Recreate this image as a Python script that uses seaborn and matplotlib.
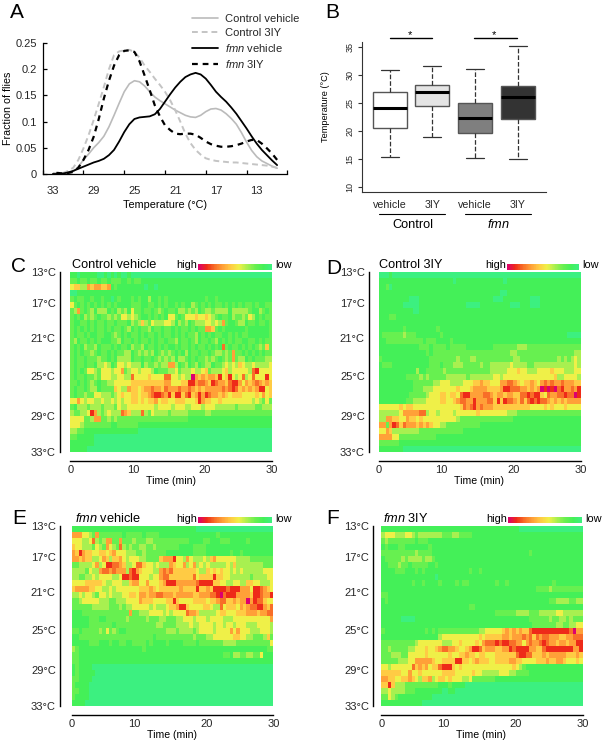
import numpy as np
import pandas as pd
import seaborn as sns
import matplotlib
matplotlib.use("Agg")
import matplotlib.pyplot as plt
from matplotlib.colors import LinearSegmentedColormap
from matplotlib.lines import Line2D

W, H = 603, 745

# ==============================
# DATA
# ==============================
temps = [33, 32.5, 32, 31.5, 31, 30.5, 30, 29.5, 29, 28.5, 28, 27.5, 27, 26.5, 26, 25.5, 25, 24.5, 24, 23.5, 23, 22.5,
         22, 21.5, 21, 20.5, 20, 19.5, 19, 18.5, 18, 17.5, 17, 16.5, 16, 15.5, 15, 14.5, 14, 13.5, 13, 12.5, 12, 11.5, 11]
control_vehicle = [0, 0, .001, .002, .005, .014, .027, .038, .05, .06, .072, .09, .112, .135, .157, .172, .178, .176, .168, .157, .147, .14,
                   .134, .128, .122, .117, .112, .109, .108, .112, .119, .124, .125, .122, .115, .106, .095, .079, .061, .045, .033, .025, .02, .015, .011]
control_3iy = [.002, .002, .002, .006, .012, .027, .049, .074, .103, .134, .166, .2, .227, .234, .236, .237, .233, .222, .207, .195, .182, .17,
               .157, .141, .122, .1, .077, .059, .046, .037, .03, .027, .025, .024, .023, .022, .022, .021, .02, .019, .018, .017, .016, .014, .012]
fmn_vehicle = [0, 0, .001, .003, .006, .01, .014, .018, .022, .025, .029, .036, .046, .062, .08, .095, .105, .108, .109, .11, .114, .124,
               .138, .152, .165, .176, .185, .19, .193, .19, .182, .17, .157, .147, .138, .127, .115, .101, .087, .072, .058, .046, .036, .026, .017]
fmn_3iy = [.002, .002, .001, .002, .004, .012, .027, .046, .071, .105, .144, .178, .207, .227, .235, .236, .233, .215, .188, .16, .131, .11,
           .093, .084, .077, .076, .077, .077, .075, .069, .062, .057, .054, .052, .052, .053, .055, .058, .062, .065, .065, .058, .049, .039, .027]

box_groups = ["vehicle ", "3IY ", "vehicle", "3IY"]
box_colors = ["#ffffff", "#e4e4e4", "#7f7f7f", "#333333"]
# low whisker, Q1, median, Q3, high whisker
box_stats = [
    [15.35, 20.4, 24.05, 27.0, 30.8],
    [18.9, 24.4, 27.0, 28.2, 31.5],
    [15.05, 19.6, 22.2, 24.9, 30.95],
    [15.0, 22.05, 26.05, 28.0, 35.2],
]

# heat maps: 30 rows (13C at the top) x 60 columns, 0 = low ... 9 = high
heat_c = [
    "1101111100 1010100100 0000000000 0000000000 0000000000 0000000000",
    "2212212212 2122211212 2111111111 1111111111 1111111111 1111111111",
    "4553365665 5612111111 1101101111 1111111111 1111111111 1111111111",
    "0011111111 1111111111 1111111111 1111111111 1111111111 1111111111",
    "2122112112 1101211121 2113112121 1111111111 2112111111 1111111111",
    "4212121212 1212111122 2112212121 1212113212 1212212121 2122121122",
    "2362123133 3121323142 2122123212 2133232312 3323333133 3332113212",
    "2121323212 2323244343 2112121214 4212444544 5432122132 2324312122",
    "2112212122 1221222132 3532433344 3132312333 4434362112 3312212212",
    "2121212122 1212212312 1223122122 1212212122 6652121111 1121111112",
    "2122121122 1123212122 1212212122 1212122312 1212211212 1221111112",
    "2312212121 1122312212 1221212212 2312212312 2123121212 2112212122",
    "2121322312 2212122132 2312212121 1212212122 1212172122 1212123252",
    "2121223212 2121223312 3232312323 2121312212 2123323262 2121212122",
    "2122122232 2121333312 2122123232 3133212122 3232123262 3312122233",
    "2122122133 4312443433 3132232336 6312312312 3312234343 5433433334",
    "2121244324 4434462344 3444312223 3423334334 5233345344 4443784444",
    "2122122324 4433443374 4445444477 4434339656 5665845843 4734744484",
    "2212123212 2334444455 5555555566 4445588677 6587665788 6465676565",
    "2122123312 2225433655 4566766576 6676676565 6666676787 5656568845",
    "2122322443 3323454455 4556788768 5885785686 8766565455 5444454645",
    "4464344334 3343434455 4545564554 4555444586 5544544444 4444343242",
    "2133323332 3332433444 4444434444 3444334443 4443333332 3333322333",
    "3223348632 3433376533 3732433332 3333322222 3322222222 2222222222",
    "4444223662 2323222222 2222222222 2222211111 1111111111 1111111111",
    "4443222222 2211222222 1111111111 1111111111 1111111111 1111111111",
    "3322111111 1111111111 0000000000 0000000000 0000000000 0000000000",
    "2211111000 0000000000 0000000000 0000000000 0000000000 0000000000",
    "1111111000 0000000000 0000000000 0000000000 0000000000 0000000000",
    "1111100000 0000000000 0000000000 0000000000 0000000000 0000000000",
]
heat_d = [
    "0001000000 0000000000 0000000000 0000000000 0000000000 0000000000",
    "1111111111 1111111111 1101111111 1111111011 1111111111 1111111111",
    "1120111111 1111111111 1111111111 1111111111 1111111111 1111111111",
    "1111111111 1111111111 1111111111 1111110011 1111111111 1111111111",
    "1111111110 0011111111 1111111111 1111000111 1111100011 1111111111",
    "1111111000 0011111111 1111110000 1111111110 0011100011 1111111111",
    "1111111111 0011111111 1111111111 1111111111 1111111111 1111111111",
    "1112211111 1111111111 1111111111 1111111111 1111111111 1111111111",
    "1111111111 1111111111 1111111111 1111111111 1111111111 1111111111",
    "1111111211 1111111211 1111111111 1111111111 1111111111 1111111111",
    "1222222322 2111111121 1111111111 1111111111 1111111111 1111110000",
    "1122222222 2221222111 1211111111 1111111111 1111111111 1111111111",
    "1111111111 1122212222 1222221111 1111222222 2333222222 2222222222",
    "1111111111 1111212222 2222222222 2222222223 3222222222 2222222233",
    "2111111111 1111122222 2223222332 2222222222 3322222222 2223232343",
    "1222111111 1111122212 2233322222 3223333334 3333223333 3333333343",
    "1111111111 1311222223 2222222222 2223333344 4544333444 4544433344",
    "1111111122 2232322222 3333332333 3333443444 4444444444 4453344443",
    "1111111111 2222223344 4333344455 6554446677 6545565467 6766766655",
    "1111111111 2223334444 4445444566 6655556887 7766565698 9897866768",
    "1111111112 2222344455 4554788666 6776566566 5577878854 7667787798",
    "1111111122 3333444455 4456776686 6677585877 6575787877 6565656666",
    "4444445455 4444444444 4444576786 7666555555 5555544445 4544454444",
    "3333334666 6677344344 4434444445 4444444433 3222222222 2222222222",
    "3366554465 5454444444 4443222222 2222222222 1111111111 1111111111",
    "6626875766 6565654433 2222222222 1111111111 1111111111 1111111111",
    "4465333333 3322222222 2222211111 1111111111 1111111111 1111111111",
    "6666442222 2222222111 1111111111 1111111111 1111111111 1111111111",
    "2222221111 1111111111 1111111111 1111111111 1111111111 1111111111",
    "1111111000 0000000000 0000000000 0000000000 0000000000 0000000000",
]
heat_e = [
    "1111111111 1111111111 1111111111 1111111000 0000000000 0000000000",
    "6664432622 2222212222 2122221111 1111111111 1112111111 1111111111",
    "4443347323 6622622232 2233222222 2222211112 2111222111 1121111111",
    "5443332432 6432732322 3322322222 2211112222 1111111111 1111111111",
    "6586554455 4564443332 2322222211 1111112222 1111111211 2111111111",
    "6656553346 5355643444 3322225666 8443643334 3564444443 3332222222",
    "2233334634 8877653347 7544343336 5446346343 4333334353 3333333222",
    "3333243367 7676663786 5444336767 5555555433 5454544343 4333333444",
    "3322334344 4433488788 4443446775 5555557455 5585544333 3332333344",
    "4444555554 3344433566 4464445688 8666666788 8855443344 3355443334",
    "5666655443 3434444444 5556545555 5565555855 6588887888 6664887654",
    "3343443244 3433344554 6656677666 5666665566 6778978886 6665887668",
    "2234444433 3223334444 6555444455 8544445555 4556775565 6696877544",
    "2222223333 3222323344 4443433345 5688544445 5433745554 6567788657",
    "1112222222 2222222622 3334444343 4444766533 3334554445 5566656677",
    "1111122211 2222223222 2232223322 2334443444 3444433344 4444444446",
    "1111122222 2212222222 2222233222 2333343344 4434434434 4433344443",
    "2212222232 4232112222 2222222233 3233332344 4434444646 4443334443",
    "1122222222 2222222222 2222122222 2222223222 3344444455 4433222352",
    "1111122211 1211221122 2212111121 1112222122 2222233332 2222222224",
    "3211111111 1111111111 1211111111 1111111111 1111111111 1111111122",
    "2211111111 1111111111 1111111111 1111111111 1111122133 2233224111",
    "2211111111 1111111111 1111111111 1111111111 1111111111 1111111111",
    "1211110000 0000000000 0000000000 0000000000 0000000000 0000000000",
    "1211111000 0000000000 0000000000 0000000000 0000000000 0000000000",
    "2211110000 0000000000 0000000000 0000000000 0000000000 0000000000",
    "2111100000 0000000000 0000000000 0000000000 0000000000 0000000000",
    "2211100000 0000000000 0000000000 0000000000 0000000000 0000000000",
    "2111100000 0000000000 0000000000 0000000000 0000000000 0000000000",
    "1111000000 0000000000 0000000000 0000000000 0000000000 0000000000",
]
heat_f = [
    "1111111111 1111111111 1111111111 1111111111 1000000000 0000000000",
    "3444333443 2333333322 2332222111 1111111111 1111111111 1111111111",
    "2322222222 1222111111 1111111111 1111111111 1111111111 1111111111",
    "1211122111 1111211111 1111111111 1111111111 1111111111 1111111111",
    "2222222222 3222211111 1111111111 1111111111 1111211111 1111111111",
    "1222223233 3323321111 1111111111 1111111111 1111111111 1111111111",
    "1122232212 2222112111 1111111111 1111111111 1111111111 1111111111",
    "1111222111 2121111111 1111112112 1111111111 1111111111 1111111111",
    "1111111111 1111110111 1111111111 1111111111 1111111111 1111111111",
    "1111111112 1121111211 1121221111 1111211211 1111111111 1211111111",
    "1111111111 1111111111 1111111111 1111111111 1111112222 3222222222",
    "2211111111 1111111111 1111111111 1111111111 1111111111 1111111111",
    "1211111111 1111111111 1111111111 1111111111 1111111111 2233332233",
    "1111111111 1111111111 1111112211 1111111111 1111111111 1111111111",
    "1111111111 1111111111 1111111111 1111222222 3333222333 3344333333",
    "1111110000 1111111111 1111111111 1111111111 1111222222 3223323222",
    "1111111111 1111111111 1111111111 1111111111 1111122222 2233223344",
    "2111111111 1112121222 2222222223 3444445656 5655788888 8888887966",
    "1111111111 1111111344 4444444445 4555556656 6676757677 6665566777",
    "2222222222 3444444433 3445444454 6777878877 6646766787 6656656688",
    "2232222233 4445445677 6654456887 5666556687 8888665578 8888888668",
    "2223332244 4445444444 5445565545 5444555555 7887755565 6666655565",
    "2222233344 6666654455 5588554565 5544555566 5544445556 5566544454",
    "4434444447 5656455788 8545444444 4444444445 4321111111 1111111111",
    "5555554464 4544444455 5544444544 3333344433 2222111111 1111111111",
    "6655445565 4355634554 5444334222 2222111111 1111111111 1111111111",
    "5585333222 2222222111 2111100000 0000000000 0000000000 0000000000",
    "3343333222 1111111100 1100000000 0000000000 0000000000 0000000000",
    "2243211111 1111100000 0000000000 0000000000 0000000000 0000000000",
    "1111111111 1100000000 0000000000 0000000000 0000000000 0000000000",
]

temp_labels = ["13°C", "17°C", "21°C", "25°C", "29°C", "33°C"]
temp_rows = [0, 5.2, 11, 17.4, 24, 30]
time_labels = ["0", "10", "20", "30"]
time_cols = [0, 18.6, 40, 60]

# ==============================
# STYLE
# ==============================
sns.set_theme(style="ticks")
plt.rcParams["font.family"] = ["Liberation Sans", "DejaVu Sans"]
plt.rcParams["mathtext.fontset"] = "custom"
plt.rcParams["mathtext.rm"] = "Liberation Sans"
plt.rcParams["mathtext.it"] = "Liberation Sans:italic"

heat_cmap = LinearSegmentedColormap.from_list(
    "heat",
    ["#3cf080", "#44f058", "#68f050", "#a8f050", "#f0f048",
     "#ffcc44", "#ffa038", "#f87028", "#ee2a18", "#dc0070"],
)

fig = plt.figure(figsize=(W / 100, H / 100), dpi=100)


def box(x0, y0, x1, y1):
    return fig.add_axes([x0 / W, 1 - y1 / H, (x1 - x0) / W, (y1 - y0) / H])


def txt(x, y, s, size=8, ha="left", **kw):
    fig.text(x / W, 1 - y / H, s, fontsize=size, ha=ha, va="center", color="black", **kw)


def bar(x0, x1, y, lw=1.0):
    fig.add_artist(Line2D([x0 / W, x1 / W], [1 - y / H, 1 - y / H], color="black", lw=lw))


# ==============================
# A - fraction of flies
# ==============================
ax = box(42.7, 43, 287.3, 174)
sns.lineplot(x=temps, y=control_vehicle, ax=ax, color="#bbbbbb", lw=1.2, label="Control vehicle")
line = sns.lineplot(x=temps, y=control_3iy, ax=ax, color="#c4c4c4", lw=1.4, label="Control 3IY").lines[-1]
line.set_dashes((3, 2))
sns.lineplot(x=temps, y=fmn_vehicle, ax=ax, color="black", lw=1.3, label="$\\mathit{fmn}$ vehicle")
line = sns.lineplot(x=temps, y=fmn_3iy, ax=ax, color="black", lw=1.6, label="$\\mathit{fmn}$ 3IY").lines[-1]
line.set_dashes((2.6, 2.2))
ax.set_xlim(34, 10)
ax.set_ylim(0, 0.25)
ax.set_xticks([34, 30, 26, 22, 18, 14, 10], labels=[])
ax.set_xticks([33, 29, 25, 21, 17, 13], labels=["33", "29", "25", "21", "17", "13"], minor=True)
ax.set_yticks([0, .05, .1, .15, .2, .25], labels=["0", "0.05", "0.1", "0.15", "0.2", "0.25"])
ax.tick_params(axis="both", which="major", direction="in", length=3, width=0.9, labelsize=8, pad=4, color="black")
ax.tick_params(axis="x", which="minor", length=0, labelsize=8, pad=8.5)
for side in ["top", "right"]:
    ax.spines[side].set_visible(False)
for side in ["left", "bottom"]:
    ax.spines[side].set_color("black")
    ax.spines[side].set_linewidth(0.9)
ax.set_xlabel("")
ax.set_ylabel("")
ax.legend(
    loc="upper left", bbox_to_anchor=(192 / W, 1 - 13.5 / H), bbox_transform=fig.transFigure,
    frameon=False, fontsize=8, handlelength=2.35, handletextpad=0.6, labelspacing=0.36,
    borderpad=0, borderaxespad=0,
)
txt(165, 204.5, "Temperature (°C)", 7.8, ha="center")
txt(8, 108, "Fraction of flies", 7.7, ha="center", rotation=90)

# ==============================
# B - box plots
# ==============================
ax = box(361.7, 41.7, 545.7, 192)
box_df = pd.DataFrame({
    "group": [g for g, s in zip(box_groups, box_stats) for _ in s],
    "temp": [v for s in box_stats for v in s],
})
sns.boxplot(
    data=box_df, x="group", y="temp", hue="group", order=box_groups, hue_order=box_groups,
    palette=box_colors, legend=False, saturation=1, width=0.8, whis=(0, 100), fliersize=0,
    linecolor="#555555", linewidth=1.0, capwidths=0.42, ax=ax,
    medianprops={"color": "black", "linewidth": 2.2},
    whiskerprops={"color": "#333333", "linestyle": "--", "linewidth": 0.9},
    capprops={"color": "#333333", "linewidth": 0.9},
)
ax.set_xlim(-0.657, 3.657)
ax.set_ylim(9.05, 35.9)
ax.set_yticks([10, 15, 20, 25, 30, 35])
ax.tick_params(axis="y", labelsize=6.5, length=3, width=0.8, labelrotation=90, pad=2, color="#333333")
for t in ax.get_yticklabels():
    t.set_va("center")
ax.set_xticks(range(4), labels=["vehicle", "3IY", "vehicle", "3IY"])
ax.tick_params(axis="x", labelsize=7.7, length=0, pad=6)
for side in ["top", "right"]:
    ax.spines[side].set_visible(False)
for side in ["left", "bottom"]:
    ax.spines[side].set_color("#333333")
    ax.spines[side].set_linewidth(0.8)
ax.set_xlabel("")
ax.set_ylabel("")
txt(325, 107, "Temperature (°C)", 6.6, ha="center", rotation=90)
bar(390, 432, 38.3)
bar(474, 517, 38.3)
txt(409.5, 35, "*", 8, ha="center")
txt(493.5, 35, "*", 8, ha="center")
bar(379, 445, 213.7, 0.8)
bar(465, 530.7, 213.7, 0.8)
txt(413, 225, "Control", 9.2, ha="center")
txt(498.7, 225, "$\\mathit{fmn}$", 9.2, ha="center")

# ==============================
# C-F - heat maps
# ==============================
panels = [
    (heat_c, (70.3, 271.7, 272, 451.7), 10.5, 460.7, "Control vehicle", 72, 265, (198, 264.3, 272, 270)),
    (heat_d, (379, 272, 580.7, 452), 10, 460.7, "Control 3IY", 379.3, 265, (506.7, 264.3, 579.3, 270)),
    (heat_e, (72, 525.7, 273.3, 706), 12, 715, "$\\mathit{fmn}$ vehicle", 75, 519, (198, 517.3, 272, 523.3)),
    (heat_f, (381.3, 525.7, 582.7, 706), 8, 715, "$\\mathit{fmn}$ 3IY", 383, 519, (507.7, 517.3, 582, 523.3)),
]
for rows, rect, left_gap, axis_y, title, title_x, title_y, cbar_rect in panels:
    grid = np.array([[int(c) for c in r.replace(" ", "")] for r in rows])
    ax = box(*rect)
    sns.heatmap(grid, ax=ax, cmap=heat_cmap, vmin=0, vmax=9, cbar=False, xticklabels=False, yticklabels=False)
    # axis brackets stand off from the map
    ax.spines["left"].set_visible(True)
    ax.spines["bottom"].set_visible(True)
    ax.spines["left"].set_position(("outward", left_gap * 0.72))
    ax.spines["bottom"].set_position(("outward", (axis_y - rect[3]) * 0.72))
    for side in ["left", "bottom"]:
        ax.spines[side].set_color("black")
        ax.spines[side].set_linewidth(1.0)
    ax.set_yticks(temp_rows, labels=temp_labels)
    ax.set_xticks(time_cols, labels=time_labels)
    ax.tick_params(axis="y", length=0, labelsize=8, pad=3, labelrotation=0)
    ax.tick_params(axis="x", length=0, labelsize=8, pad=3, labelrotation=0)
    ax.set_yticks([0, 30], minor=True)
    ax.set_xticks([0, 60], minor=True)
    ax.tick_params(axis="both", which="minor", direction="in", length=3, width=1.0, color="black")
    txt((rect[0] + rect[2]) / 2 - 0.5, axis_y + 20.5, "Time (min)", 7.6, ha="center")
    txt(title_x, title_y, title, 9.2)
    cax = box(*cbar_rect)
    sns.heatmap(np.linspace(9, 0, 100).reshape(1, -1), ax=cax, cmap=heat_cmap, vmin=0, vmax=9,
                cbar=False, xticklabels=False, yticklabels=False)
    txt(cbar_rect[0] - 1, title_y, "high", 7.9, ha="right")
    txt(cbar_rect[2] + 3, title_y, "low", 7.9)

# ==============================
# PANEL LETTERS
# ==============================
for s, x, y in [("A", 10, 12), ("B", 325, 12), ("C", 11, 267), ("D", 326, 268), ("E", 12, 519), ("F", 326, 519)]:
    txt(x, y, s, 15)

fig.savefig("out.png", dpi=100)
